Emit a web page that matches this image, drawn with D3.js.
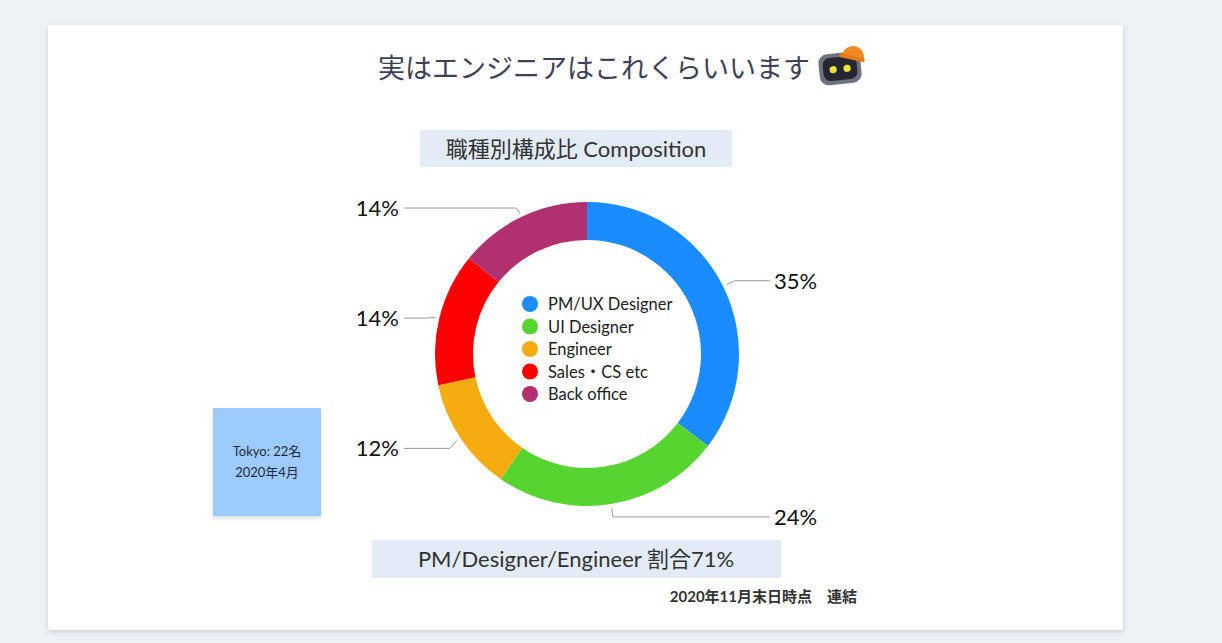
<!DOCTYPE html>
<html>
<head>
<meta charset="utf-8">
<title>職種別構成比</title>
<script src="https://d3js.org/d3.v7.min.js"></script>
<style>
  body { margin: 0; background: #edf0f5; }
  text { font-family: Lato, "Noto Sans CJK JP", sans-serif; }
</style>
</head>
<body>
<script type="text/javascript">

  // data
  var categories = ["PM/UX Designer", "UI Designer", "Engineer", "Sales・CS etc", "Back office"];
  var shares = [35, 24, 12, 14, 14];
  var colors = ["#1a8cff", "#56d42f", "#f5ac10", "#ff0000", "#b03070"];
  var pctLabels = ["35%", "24%", "12%", "14%", "14%"];

  var w = 1222, h = 643;
  var cx = 587, cy = 354;
  var rOuter = 152, rInner = 114;

  var svg = d3.select("body").append("svg")
      .attr("width", w)
      .attr("height", h);

  var defs = svg.append("defs");
  var sh = defs.append("filter").attr("id", "shadow")
      .attr("x", "-10%").attr("y", "-10%").attr("width", "120%").attr("height", "125%");
  sh.append("feDropShadow").attr("dx", 0).attr("dy", 2).attr("stdDeviation", 2)
      .attr("flood-color", "#8a94a8").attr("flood-opacity", 0.35);

  // card
  svg.append("rect")
      .attr("x", 48).attr("y", 25).attr("width", 1075).attr("height", 605)
      .attr("rx", 2)
      .attr("fill", "#fff")
      .attr("filter", "url(#shadow)");

  // title
  svg.append("text")
      .attr("x", 594).attr("y", 78)
      .attr("text-anchor", "middle")
      .attr("font-size", 27)
      .attr("fill", "#3d4157")
      .text("実はエンジニアはこれくらいいます");

  // little robot next to title
  var bot = svg.append("g").attr("transform", "translate(840,68) rotate(-6)");
  bot.append("rect")
      .attr("x", -21).attr("y", -15).attr("width", 42).attr("height", 31).attr("rx", 9)
      .attr("fill", "#6b7280");
  bot.append("rect")
      .attr("x", -17).attr("y", -11).attr("width", 34).attr("height", 23).attr("rx", 7)
      .attr("fill", "#24272f");
  bot.selectAll("circle.eye").data([-7, 7]).enter().append("circle")
      .attr("cx", function(d){ return d; }).attr("cy", 1).attr("r", 3.6)
      .attr("fill", "#f2e23a");
  var hat = svg.append("g").attr("transform", "translate(853,57) rotate(12)");
  hat.append("path")
      .attr("d", "M-11,0 A11,11 0 0,1 11,0 Z")
      .attr("fill", "#f08a24");
  hat.append("rect")
      .attr("x", -14).attr("y", -1).attr("width", 26).attr("height", 4).attr("rx", 1.5)
      .attr("fill", "#e57a17");

  // subtitle box
  svg.append("rect")
      .attr("x", 420).attr("y", 130).attr("width", 312).attr("height", 37)
      .attr("fill", "#e2ebf6");
  svg.append("text")
      .attr("x", 576).attr("y", 157)
      .attr("text-anchor", "middle")
      .attr("font-size", 22)
      .attr("fill", "#333")
      .text("職種別構成比 Composition");

  // donut
  var pie = d3.pie().sort(null).value(function(d){ return d; });
  var arcs = pie(shares);
  var arc = d3.arc().innerRadius(rInner).outerRadius(rOuter);

  var g = svg.append("g").attr("transform", "translate(" + cx + "," + cy + ")");
  g.selectAll("path.slice")
      .data(arcs)
      .enter()
      .append("path")
      .attr("class", "slice")
      .attr("d", arc)
      .attr("fill", function(d, i){ return colors[i]; });

  // leader lines + labels
  var a1 = d3.arc().innerRadius(rOuter + 4).outerRadius(rOuter + 4);
  var a2 = d3.arc().innerRadius(rOuter + 13).outerRadius(rOuter + 13);
  var lineX = 183;

  arcs.forEach(function(d, i){
    var p1 = a1.centroid(d);
    var p2 = a2.centroid(d);
    var mid = (d.startAngle + d.endAngle) / 2;
    var right = mid < Math.PI;
    if (!right) { p2[1] += 3; }
    var p3 = [right ? lineX : -lineX, p2[1]];
    g.append("polyline")
        .attr("points", [p1, p2, p3].map(function(p){ return p.join(","); }).join(" "))
        .attr("fill", "none")
        .attr("stroke", "#999")
        .attr("stroke-width", 1);
    g.append("text")
        .attr("x", right ? lineX + 4 : -lineX - 5)
        .attr("y", p3[1] + 8)
        .attr("text-anchor", right ? "start" : "end")
        .attr("font-size", 22)
        .attr("fill", "#111")
        .text(pctLabels[i]);
  });

  // legend inside the hole
  var ly = d3.scalePoint().domain(categories).range([304, 394]);
  var leg = svg.append("g");
  leg.selectAll("circle")
      .data(categories)
      .enter()
      .append("circle")
      .attr("cx", 530)
      .attr("cy", function(d){ return ly(d); })
      .attr("r", 8)
      .attr("fill", function(d, i){ return colors[i]; });
  leg.selectAll("text")
      .data(categories)
      .enter()
      .append("text")
      .attr("x", 548)
      .attr("y", function(d){ return ly(d) + 6; })
      .attr("font-size", 16.5)
      .attr("fill", "#222")
      .text(function(d){ return d; });

  // sticky note
  svg.append("rect")
      .attr("x", 213).attr("y", 408).attr("width", 108).attr("height", 108)
      .attr("fill", "#9ecbff")
      .attr("filter", "url(#shadow)");
  svg.append("text")
      .attr("x", 267).attr("y", 456)
      .attr("text-anchor", "middle")
      .attr("font-size", 13)
      .attr("fill", "#1f2a3a")
      .text("Tokyo: 22名");
  svg.append("text")
      .attr("x", 267).attr("y", 477)
      .attr("text-anchor", "middle")
      .attr("font-size", 13)
      .attr("fill", "#1f2a3a")
      .text("2020年4月");

  // bottom box
  svg.append("rect")
      .attr("x", 372).attr("y", 540).attr("width", 409).attr("height", 38)
      .attr("fill", "#e2ebf6");
  svg.append("text")
      .attr("x", 576).attr("y", 567)
      .attr("text-anchor", "middle")
      .attr("font-size", 22)
      .attr("fill", "#333")
      .text("PM/Designer/Engineer 割合71%");

  // footnote
  svg.append("text")
      .attr("x", 857).attr("y", 602)
      .attr("text-anchor", "end")
      .attr("font-size", 15)
      .attr("font-weight", "bold")
      .attr("fill", "#333")
      .text("2020年11月末日時点　連結");

</script>
</body>
</html>
